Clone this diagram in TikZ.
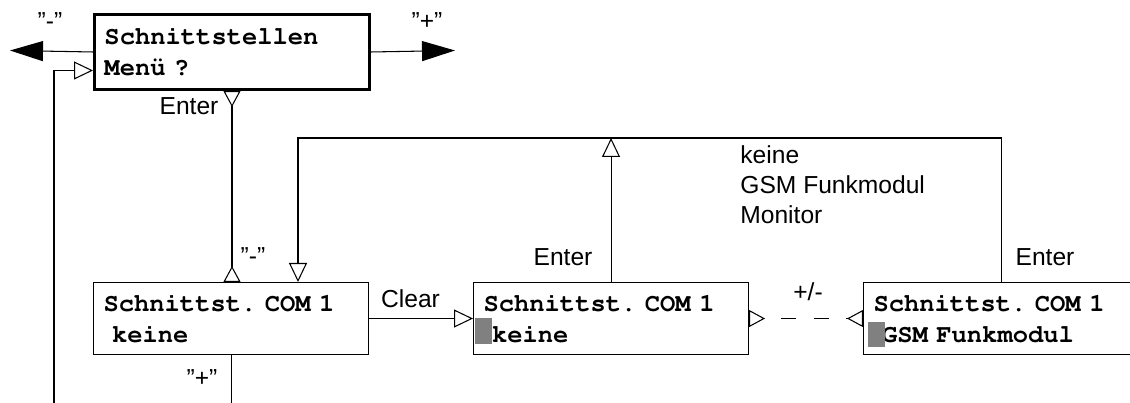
\documentclass[tikz,border=0pt]{standalone}
\usepackage[T1]{fontenc}
\usepackage{fontspec}
\setmainfont{Liberation Sans}
\setmonofont{Liberation Mono}
\usetikzlibrary{arrows.meta}
\newcommand\lcdfont{\fontencoding{T1}\fontfamily{pcr}\fontseries{b}\fontsize{14.5}{17.4}\selectfont
  \fontdimen2\font=0.6em\relax\fontdimen3\font=0pt\relax\fontdimen4\font=0pt\relax\frenchspacing}

\begin{document}
\begin{tikzpicture}[line width=0.6pt,
    >={Triangle[open,length=3.8mm,width=3.6mm]},
    rv/.tip={Triangle[open,reversed,length=3.2mm,width=3.4mm]},
    big/.tip={Triangle[length=6.6mm,width=4mm]},
    every node/.style={font=\fontsize{14}{17}\selectfont},
    lcd/.style={draw, anchor=north west, minimum width=5.5cm, minimum height=1.44cm,
      inner xsep=0.19cm, text width=5.1cm, align=left, font=\lcdfont},
    cursor/.style={fill=black!50}]
  \useasboundingbox (0,0) rectangle (22.6,8.06);
  \clip (0,0) rectangle (22.6,8.06);

  % displays
  \node[lcd, line width=1.7pt, minimum height=1.5cm] (menu) at (1.86,7.80) {Schnittstellen\\Menü ?};
  \node[lcd] (com1) at (1.86,2.42) {Schnittst. COM 1\\~keine};
  \node[lcd] (com2) at (9.46,2.42) {Schnittst. COM 1\\~keine};
  \node[lcd] (com3) at (17.26,2.42) {Schnittst. COM 1\\~GSM Funkmodul};

  \fill[cursor] (9.50,1.70) rectangle (9.84,1.18);
  \fill[cursor] (17.36,1.62) rectangle (17.70,1.12);

  % free ends
  \coordinate (minusEnd) at (0.20,7.05);
  \coordinate (plusEnd) at (9.10,7.05);
  \coordinate (backIn) at (1.08,0);
  \coordinate (plusOut) at (4.64,0);
  \coordinate (loopL) at (5.96,5.30);

  % connectors
  \draw[-big] (menu.west) -- (minusEnd);
  \draw[-big] (menu.east) -- (plusEnd);
  \draw[->] (backIn) |- ([yshift=-0.37cm]menu.west);
  \draw[rv-rv] (menu.south) -- (menu.south |- com1.north);
  \draw (com1.south) -- (com1.south |- plusOut);
  \draw[->] (com1.east) -- (com2.west);
  \draw[->] (com2.north) -- (com2.north |- loopL);
  \draw[->] (com3.north) |- (loopL) -- (loopL |- com1.north);
  \draw[rv-rv, dash pattern=on 8.5pt off 10pt, dash phase=8.5pt] (com2.east) -- (com3.west);

  % labels
  \node (lblMinus) at (1.00,7.63) {"-"};
  \node (lblPlus) at (8.54,7.63) {"+"};
  \node (lblEnter) at (3.78,5.94) {Enter};
  \node (lblUp) at (5.06,2.94) {"-"};
  \node (lblDown) at (4.04,0.50) {"+"};
  \node (lblClear) at (8.21,2.09) {Clear};
  \node (lblEnter2) at (11.26,2.92) {Enter};
  \node (lblEnter3) at (20.90,2.92) {Enter};
  \node (lblPm) at (16.16,2.22) {+/-};
  \node[anchor=west, align=left] (opts) at (14.68,4.36) {keine\\GSM Funkmodul\\Monitor};
\end{tikzpicture}
\end{document}
